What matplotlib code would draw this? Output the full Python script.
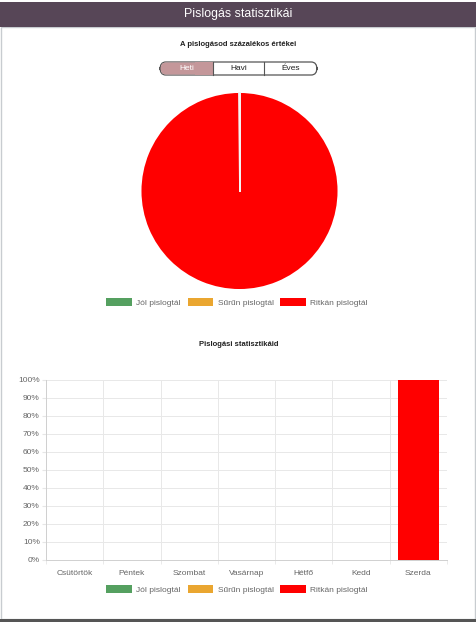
import numpy as np
import matplotlib
matplotlib.use("Agg")
import matplotlib.pyplot as plt
from matplotlib.patches import Rectangle, FancyBboxPatch, Patch

plt.rcParams['font.family'] = ['Liberation Sans', 'DejaVu Sans']

# adatok
labels = ['Jól pislogtál', 'Sűrűn pislogtál', 'Ritkán pislogtál']
colors = ['#55a060', '#eaa630', '#ff0000']
pie_values = [0, 0, 100]

days = ['Csütörtök', 'Péntek', 'Szombat', 'Vasárnap', 'Hétfő', 'Kedd', 'Szerda']
jol = [0, 0, 0, 0, 0, 0, 0]
surun = [0, 0, 0, 0, 0, 0, 0]
ritkan = [0, 0, 0, 0, 0, 0, 100]

tabs = ['Heti', 'Havi', 'Éves']

W, H = 477, 622
fig = plt.figure(figsize=(W / 100, H / 100), dpi=100)


def fx(px):
    return px / W


def fy(py):
    return 1 - py / H


# keret és fejléc
fig.patches.append(Rectangle((fx(1), fy(619)), fx(474), (619 - 27) / H, transform=fig.transFigure,
                             facecolor='white', edgecolor='#c8ccd0', linewidth=1, zorder=-5))
fig.patches.append(Rectangle((0, fy(27)), 1, 25 / H, transform=fig.transFigure,
                             facecolor='#574657', edgecolor='none', zorder=-4))
fig.patches.append(Rectangle((0, 0), 1, 3 / H, transform=fig.transFigure,
                             facecolor='#555555', edgecolor='none', zorder=-4))
fig.text(0.5, fy(14), 'Pislogás statisztikái', color='white', fontsize=8.9,
         ha='center', va='center')

fig.text(0.5, fy(44), 'A pislogásod százalékos értékei', fontsize=5.5, fontweight='bold',
         ha='center', va='center', color='#222222')

# gombok
fig.patches.append(FancyBboxPatch((fx(160), fy(75)), fx(157), 13 / H, transform=fig.transFigure,
                                  boxstyle='round,pad=0,rounding_size=0.012',
                                  facecolor='white', edgecolor='#555555', linewidth=0.9, zorder=1))
fig.patches.append(FancyBboxPatch((fx(160.5), fy(74.5)), fx(52.5), 12 / H, transform=fig.transFigure,
                                  boxstyle='round,pad=0,rounding_size=0.011',
                                  facecolor='#c4979a', edgecolor='none', zorder=2))
fig.patches.append(Rectangle((fx(195), fy(74.5)), fx(18), 12 / H, transform=fig.transFigure,
                             facecolor='#c4979a', edgecolor='none', zorder=2))
for xs in (213, 264):
    fig.lines.append(plt.Line2D([fx(xs), fx(xs)], [fy(75), fy(62)], transform=fig.transFigure,
                                color='#555555', linewidth=0.8, zorder=3))
for i, t in enumerate(tabs):
    cx = [186.5, 238.5, 290.5][i]
    fig.text(fx(cx), fy(69), t, fontsize=6, ha='center', va='center',
             color='white' if i == 0 else '#222222', zorder=4)

# kördiagram
ax1 = fig.add_axes([fx(140.5), fy(290), fx(198), 198 / H])
wedges, _ = ax1.pie(pie_values, colors=colors, startangle=90, counterclock=False,
                    wedgeprops=dict(edgecolor='none'))
# szeletek közötti fehér határvonal (a 0 értékű szeletek is)
for w in wedges:
    t = np.deg2rad(w.theta1)
    ax1.plot([0, np.cos(t)], [0, np.sin(t)], color='#f4f4f4', linewidth=1.3, zorder=5)
ax1.set_xlim(-1.01, 1.01)
ax1.set_ylim(-1.01, 1.01)
ax1.set_aspect('equal')
handles = [Patch(facecolor=c, edgecolor='none') for c in colors]
leg_kw = dict(ncol=3, frameon=False, fontsize=6, handlelength=3.1, handleheight=1.0,
              handletextpad=0.5, columnspacing=0.8, labelcolor='#666666')
fig.legend(handles, labels, loc='center', bbox_to_anchor=(fx(237), fy(302.5)), **leg_kw)

fig.text(0.5, fy(345), 'Pislogási statisztikáid', fontsize=5.5, fontweight='bold',
         ha='center', va='center', color='#222222')

# oszlopdiagram
ax2 = fig.add_axes([fx(46), fy(560), fx(401), 180 / H])
x = list(range(len(days)))
ax2.bar(x, jol, width=0.72, color=colors[0], label=labels[0], zorder=3)
ax2.bar(x, surun, width=0.72, bottom=jol, color=colors[1], label=labels[1], zorder=3)
bott = [a + b for a, b in zip(jol, surun)]
ax2.bar(x, ritkan, width=0.72, bottom=bott, color=colors[2], label=labels[2], zorder=3)
ax2.set_xlim(-0.5, len(days) - 0.5)
ax2.set_ylim(0, 100)
ax2.set_yticks(range(0, 101, 10))
ax2.set_yticklabels([f'{v}%' for v in range(0, 101, 10)])
ax2.set_xticks(x)
ax2.set_xticklabels(days)
ax2.set_xticks([i - 0.5 for i in range(len(days) + 1)], minor=True)
ax2.tick_params(axis='x', which='major', length=0, pad=7, labelsize=6, labelcolor='#666666')
ax2.tick_params(axis='x', which='minor', length=3, color='#e6e6e6')
ax2.tick_params(axis='y', length=3, color='#e6e6e6', labelsize=6, labelcolor='#666666', pad=1.5)
ax2.grid(axis='y', color='#e8e8e8', linewidth=0.7, zorder=0)
ax2.grid(axis='x', which='minor', color='#e8e8e8', linewidth=0.7, zorder=0)
ax2.grid(axis='x', which='major', visible=False)
for s in ('top', 'right'):
    ax2.spines[s].set_visible(False)
ax2.spines['left'].set_color('#d0d0d0')
ax2.spines['bottom'].set_color('#d0d0d0')
ax2.spines['left'].set_linewidth(0.7)
ax2.spines['bottom'].set_linewidth(0.7)
ax2.legend(loc='center', bbox_to_anchor=(fx(237), fy(589.5)), bbox_transform=fig.transFigure,
           **leg_kw)

fig.savefig('out.png', dpi=100)
